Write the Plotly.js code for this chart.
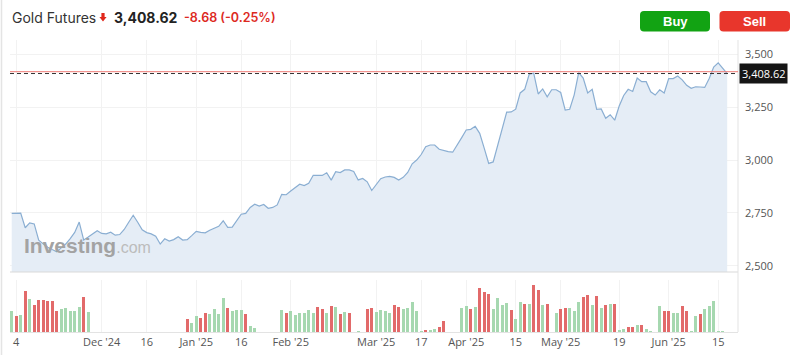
<!DOCTYPE html>
<html><head><meta charset="utf-8">
<script src="https://cdn.plot.ly/plotly-3.0.1.min.js"></script>
<style>html,body{margin:0;padding:0;background:#fff;}#chart{width:800px;height:355px;}</style>
</head><body><div id="chart"></div>
<script>
// ---- data (daily, trading-day index) ----
const closes = [
2748,2748,2749,2680,2703,2698,2621,2604,2588,2577,
2567,2585,2603,2629,2658,2707,2622,2636,2650,2666,
2653,2651,2659,2645,2648,2672,2706,2739,2706,2670,
2657,2651,2640,2603,2628,2617,2624,2638,2622,2624,
2643,2663,2658,2656,2668,2677,2687,2713,2682,2683,
2711,2744,2748,2776,2791,2782,2790,2772,2776,2788,
2838,2836,2854,2870,2886,2879,2890,2928,2927,2927,
2940,2905,2945,2941,2953,2953,2946,2906,2913,2897,
2856,2887,2912,2920,2923,2918,2905,2918,2941,2982,
3000,3026,3063,3071,3071,3051,3044,3040,3037,3069,
3106,3142,3145,3159,3126,3056,2984,2991,3069,3158,
3226,3227,3240,3317,3334,3405,3410,3312,3336,3299,
3332,3332,3319,3236,3240,3308,3413,3387,3317,3334,
3239,3241,3197,3214,3188,3255,3305,3334,3324,3387,
3370,3370,3322,3307,3332,3317,3385,3385,3397,3379,
3353,3339,3346,3345,3343,3385,3439,3459,3433,3408.62];
const volumes = [
207,163,170,413,333,270,323,323,307,307,
207,227,237,207,207,250,350,197,0,0,
0,0,0,0,0,0,0,3,0,0,
0,0,0,0,0,0,0,0,0,127,
93,160,137,190,180,227,180,343,243,210,
217,217,180,57,37,0,0,5,0,5,
217,190,207,167,190,190,217,190,250,233,
190,260,250,180,197,190,0,8,0,233,
240,197,217,207,187,270,253,227,243,297,
207,13,20,20,27,47,113,0,0,0,
240,260,227,250,440,397,377,227,340,270,
287,217,133,297,277,277,467,423,270,277,
0,187,227,240,240,207,303,347,373,267,
357,240,267,283,277,23,33,53,53,73,
73,27,7,0,260,207,207,190,190,260,
207,7,160,180,227,260,313,13,7,0];
const volUp = [
1,0,1,0,1,0,0,0,0,0, 0,1,1,1,1,1,0,1,1,1,
1,1,1,1,1,1,1,1,1,1, 1,1,1,1,1,1,1,1,1,0,
1,1,0,0,1,1,1,1,0,1, 1,1,0,1,1,1,1,1,1,1,
1,0,1,1,1,1,1,1,0,0, 1,0,1,0,1,0,1,1,1,0,
0,1,1,1,1,0,0,1,1,1, 1,1,0,1,1,0,0,1,1,1,
1,1,0,1,0,0,0,1,1,1, 1,0,1,1,0,1,0,0,1,0,
1,1,0,0,1,1,1,0,0,1, 0,1,0,1,0,1,1,0,0,1,
0,1,1,1,1,0,0,1,1,0, 0,1,1,0,1,1,1,1,1,1];
const tickIdx  = [1, 20, 30, 41, 51, 62, 81, 91, 101, 112, 122, 135, 146, 157];
const tickText = ['4', "Dec '24", '16', "Jan '25", '16', "Feb '25", "Mar '25", '17', "Apr '25", '15', "May '25", '19', "Jun '25", '15'];
const priceTicks = [2500, 2750, 3000, 3250, 3500];
const instrument = 'Gold Futures';
const lastPrice = 3408.62;
const change = -8.68;
const changePct = -0.25;
const prevClose = lastPrice - change;

// ---- layout helpers ----
const W = 800, H = 355, M = {l: 10, r: 62, t: 40, b: 23};
const pw = W - M.l - M.r, ph = H - M.t - M.b;
const PX = x => (x - M.l) / pw, PY = y => (H - M.b - y) / ph;
const priceDomBottom = PY(272);
const volDomTop = PY(280);
const idx = closes.map((_, i) => i);
const fmt = v => v.toLocaleString('en-US', {minimumFractionDigits: 2, maximumFractionDigits: 2});

function rr(x0, y0, x1, y1, r) {
  const X = PX, Y = PY;
  return `M${X(x0 + r)},${Y(y0)} L${X(x1 - r)},${Y(y0)} Q${X(x1)},${Y(y0)} ${X(x1)},${Y(y0 + r)} ` +
         `L${X(x1)},${Y(y1 - r)} Q${X(x1)},${Y(y1)} ${X(x1 - r)},${Y(y1)} L${X(x0 + r)},${Y(y1)} ` +
         `Q${X(x0)},${Y(y1)} ${X(x0)},${Y(y1 - r)} L${X(x0)},${Y(y0 + r)} Q${X(x0)},${Y(y0)} ${X(x0 + r)},${Y(y0)} Z`;
}
function arrowPath(cx, top, bot) {
  const pts = [[cx - 1.6, top], [cx + 1.6, top], [cx + 1.6, top + 4], [cx + 3.6, top + 4], [cx, bot], [cx - 3.6, top + 4], [cx - 1.6, top + 4]];
  return 'M' + pts.map(p => PX(p[0]) + ',' + PY(p[1])).join(' L') + ' Z';
}

const priceTrace = {
  x: idx, y: closes, type: 'scatter', mode: 'lines',
  line: {color: '#8aaed2', width: 1.2},
  fill: 'tozeroy', fillcolor: '#e5edf6',
  xaxis: 'x', yaxis: 'y', hoverinfo: 'skip'
};
const volTrace = {
  x: idx, y: volumes, type: 'bar', width: 0.68,
  marker: {color: volUp.map(u => u ? '#a6d8b0' : '#e26a6a')},
  xaxis: 'x', yaxis: 'y2', hoverinfo: 'skip'
};

const layout = {
  width: W, height: H,
  margin: {l: M.l, r: M.r, t: M.t, b: M.b, pad: 0},
  paper_bgcolor: '#fff', plot_bgcolor: '#fff',
  showlegend: false,
  bargap: 0,
  font: {family: 'Open Sans, sans-serif', size: 11, color: '#555'},
  xaxis: {
    anchor: 'y2',
    range: [-0.38, 161.4], tickvals: tickIdx, ticktext: tickText,
    showgrid: true, gridcolor: '#f2f2f2', zeroline: false,
    showline: true, linecolor: '#e3e3e3', ticks: '',
    tickfont: {family: 'Open Sans, sans-serif', size: 11, color: '#555'}, fixedrange: true
  },
  yaxis: {
    domain: [priceDomBottom, 1], side: 'right', range: [2471, 3567],
    tickvals: priceTicks, tickformat: ',.0f',
    showgrid: true, gridcolor: '#f2f2f2', zeroline: false,
    showline: false, ticks: '', ticklabelstandoff: 6,
    tickfont: {family: 'Open Sans, sans-serif', size: 11, color: '#555'}
  },
  yaxis2: {
    domain: [0, volDomTop], range: [0, 520],
    showgrid: false, zeroline: false, showticklabels: false, showline: false
  },
  shapes: [
    {type: 'line', xref: 'paper', yref: 'paper', x0: PX(1.5), x1: PX(1.5), y0: PY(0), y1: PY(355), line: {color: '#e4e4e4', width: 1.5}},
    {type: 'line', xref: 'paper', yref: 'paper', x0: 0, x1: 1, y0: priceDomBottom, y1: priceDomBottom, line: {color: '#d9d9d9', width: 1}},
    {type: 'line', xref: 'paper', yref: 'paper', x0: 1, x1: 1, y0: 0, y1: 1, line: {color: '#e3e3e3', width: 1}},
    {type: 'line', xref: 'paper', yref: 'y', x0: 0, x1: 1, y0: prevClose, y1: prevClose, line: {color: '#ef7b76', width: 1}},
    {type: 'line', xref: 'paper', yref: 'y', x0: 0, x1: 1, y0: lastPrice, y1: lastPrice, line: {color: '#333', width: 1, dash: '4px,3px'}},
    {type: 'path', xref: 'paper', yref: 'paper', path: rr(640, 11, 710, 31.5, 4), fillcolor: '#12a313', line: {width: 0}},
    {type: 'path', xref: 'paper', yref: 'paper', path: rr(719.5, 11, 790, 31.5, 4), fillcolor: '#e8362c', line: {width: 0}},
    {type: 'path', xref: 'paper', yref: 'paper', path: arrowPath(103, 13, 21.5), fillcolor: '#e0271c', line: {width: 0}}
  ],
  annotations: [
    {xref: 'paper', yref: 'paper', x: PX(10), y: PY(17.5), xanchor: 'left', yanchor: 'middle', showarrow: false,
     text: instrument, font: {family: 'Inter, sans-serif', size: 14, color: '#333'}},
    {xref: 'paper', yref: 'paper', x: PX(112), y: PY(17.5), xanchor: 'left', yanchor: 'middle', showarrow: false,
     text: '<b>' + fmt(lastPrice) + '</b>', font: {family: 'Inter, sans-serif', size: 14, color: '#222'}},
    {xref: 'paper', yref: 'paper', x: PX(182), y: PY(17.5), xanchor: 'left', yanchor: 'middle', showarrow: false,
     text: fmt(change) + ' (' + changePct.toFixed(2) + '%)', font: {family: 'Inter, sans-serif', size: 12.5, color: '#dd2a1f', weight: 600}},
    {xref: 'paper', yref: 'paper', x: PX(675), y: PY(21.5), xanchor: 'center', yanchor: 'middle', showarrow: false,
     text: '<b>Buy</b>', font: {family: 'Liberation Sans, Arial, sans-serif', size: 13, color: '#fff'}},
    {xref: 'paper', yref: 'paper', x: PX(755), y: PY(21.5), xanchor: 'center', yanchor: 'middle', showarrow: false,
     text: '<b>Sell</b>', font: {family: 'Liberation Sans, Arial, sans-serif', size: 13, color: '#fff'}},
    {xref: 'paper', yref: 'paper', x: PX(22), y: PY(246), xanchor: 'left', yanchor: 'middle', showarrow: false,
     text: '<b>Investing</b><span style="font-size:16px;font-weight:normal;color:#bcbcbc">.com</span>',
     font: {family: 'Liberation Sans, Arial, sans-serif', size: 21, color: '#a3a3a3'}},
    {xref: 'paper', yref: 'y', x: 1, y: lastPrice, xanchor: 'left', yanchor: 'middle', xshift: 1, showarrow: false,
     text: fmt(lastPrice), bgcolor: '#151515', borderpad: 2,
     font: {family: 'Open Sans, sans-serif', size: 11, color: '#fff'}}
  ]
};

Plotly.newPlot('chart', [priceTrace, volTrace], layout, {displayModeBar: false, staticPlot: true});
</script>
</body></html>
